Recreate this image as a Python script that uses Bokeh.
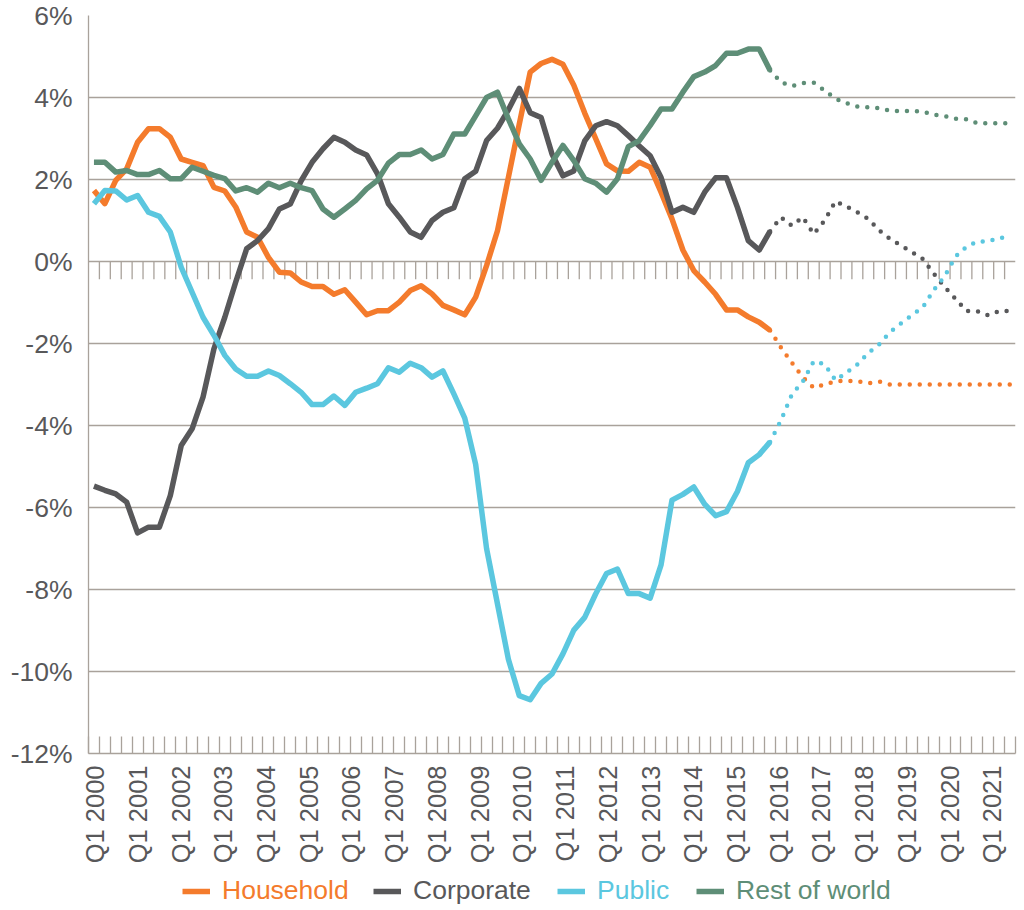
from bokeh.plotting import figure
from bokeh.layouts import column
from bokeh.models import Range1d, FixedTicker, Legend, LegendItem
from bokeh.embed import file_html
from bokeh.resources import INLINE
from math import pi

# quarterly, Q1 2000 .. Q1 2021 (index 0..84); actuals to Q3 2015, forecast after
quarters = list(range(85))
last_actual = 62
year_labels = [f"Q1 {y}" for y in range(2000, 2022)]
y_ticks = list(range(-12, 7, 2))

household = [
    1.73, 1.41, 1.98, 2.26, 2.91, 3.24, 3.24, 3.03, 2.5, 2.42,
    2.34, 1.81, 1.72, 1.33, 0.72, 0.59, 0.1, -0.26, -0.28, -0.5,
    -0.61, -0.61, -0.8, -0.69, -0.99, -1.3, -1.2, -1.2, -0.99, -0.71,
    -0.59, -0.79, -1.07, -1.18, -1.3, -0.87, -0.1, 0.75, 2.05, 3.35,
    4.62, 4.83, 4.93, 4.81, 4.3, 3.62, 3.0, 2.38, 2.21, 2.2,
    2.42, 2.3, 1.69, 1.04, 0.28, -0.22, -0.5, -0.8, -1.18, -1.18,
    -1.35, -1.48, -1.68, -2.1, -2.47, -2.82, -3.08, -3.0, -2.92, -2.91,
    -2.92, -2.97, -2.93, -3.0, -3.0, -3.0, -3.0, -3.0, -3.0, -3.0,
    -3.0, -3.0, -3.0, -3.0, -3.0,
]
corporate = [
    -5.48, -5.58, -5.67, -5.87, -6.62, -6.48, -6.48, -5.71, -4.49, -4.08,
    -3.31, -2.13, -1.36, -0.5, 0.31, 0.51, 0.8, 1.28, 1.4, 1.97,
    2.42, 2.75, 3.03, 2.91, 2.72, 2.6, 2.14, 1.41, 1.08, 0.72,
    0.59, 1.0, 1.2, 1.31, 2.02, 2.2, 2.95, 3.25, 3.7, 4.22,
    3.63, 3.51, 2.62, 2.09, 2.21, 2.94, 3.31, 3.41, 3.31, 3.07,
    2.82, 2.58, 2.05, 1.2, 1.32, 1.2, 1.69, 2.04, 2.04, 1.32,
    0.51, 0.28, 0.74, 1.08, 0.87, 1.08, 0.67, 1.0, 1.47, 1.34,
    1.2, 1.04, 0.76, 0.55, 0.39, 0.23, 0.06, -0.29, -0.62, -0.91,
    -1.21, -1.21, -1.31, -1.21, -1.21,
]
public = [
    1.41, 1.73, 1.72, 1.5, 1.61, 1.2, 1.1, 0.72, -0.14, -0.75,
    -1.36, -1.8, -2.29, -2.62, -2.8, -2.8, -2.67, -2.78, -2.98, -3.19,
    -3.49, -3.49, -3.28, -3.51, -3.19, -3.09, -2.98, -2.59, -2.7, -2.48,
    -2.59, -2.82, -2.67, -3.23, -3.82, -4.95, -7.0, -8.35, -9.7, -10.59,
    -10.69, -10.29, -10.06, -9.57, -8.99, -8.68, -8.11, -7.61, -7.5, -8.1,
    -8.1, -8.21, -7.4, -5.82, -5.68, -5.5, -5.92, -6.2, -6.1, -5.61,
    -4.91, -4.71, -4.4, -3.87, -3.24, -2.93, -2.43, -2.51, -2.9, -2.71,
    -2.51, -2.23, -2.02, -1.72, -1.51, -1.31, -1.12, -0.7, -0.36, 0.12,
    0.36, 0.49, 0.49, 0.58, 0.58,
]
rest_of_world = [
    2.42, 2.42, 2.18, 2.22, 2.12, 2.12, 2.22, 2.02, 2.02, 2.3,
    2.2, 2.1, 2.02, 1.72, 1.8, 1.69, 1.91, 1.8, 1.91, 1.8,
    1.73, 1.28, 1.08, 1.28, 1.49, 1.77, 1.98, 2.4, 2.61, 2.61,
    2.72, 2.5, 2.61, 3.11, 3.11, 3.55, 4.0, 4.13, 3.48, 2.87,
    2.5, 1.98, 2.42, 2.83, 2.46, 2.02, 1.91, 1.69, 2.02, 2.8,
    2.95, 3.32, 3.72, 3.72, 4.13, 4.51, 4.62, 4.78, 5.08, 5.08,
    5.18, 5.18, 4.66, 4.37, 4.28, 4.35, 4.36, 4.17, 3.97, 3.86,
    3.78, 3.76, 3.74, 3.68, 3.67, 3.67, 3.66, 3.58, 3.55, 3.48,
    3.47, 3.37, 3.37, 3.37, 3.37,
]

series = [
    ("Household", household, "#f47b2c", 94),
    ("Corporate", corporate, "#58585a", 285),
    ("Public", public, "#5bc7df", 469),
    ("Rest of world", rest_of_world, "#5e8e77", 608),
]

GRID = "#a9a29b"
TEXT = "#58585a"
FONT = "Liberation Sans"

p = figure(
    width=1018, height=868,
    x_range=Range1d(-0.5, 84.5), y_range=Range1d(-12, 6),
    output_backend="svg", toolbar_location=None,
    min_border_left=88, min_border_right=3, min_border_top=15, min_border_bottom=115,
)
p.outline_line_color = None

# y axis
p.yaxis.ticker = FixedTicker(ticks=y_ticks)
p.yaxis.major_label_overrides = {t: f"{t}%" for t in y_ticks}
p.yaxis.axis_line_color = GRID
p.yaxis.axis_line_width = 1.3
p.yaxis.major_tick_line_color = None
p.yaxis.minor_tick_line_color = None
p.yaxis.major_label_standoff = 10
p.yaxis.major_label_text_font = FONT
p.yaxis.major_label_text_font_size = "26.5px"
p.yaxis.major_label_text_color = TEXT

p.ygrid.ticker = FixedTicker(ticks=y_ticks)
p.ygrid.grid_line_color = GRID
p.ygrid.grid_line_width = 1.3
p.xgrid.visible = False

# x axis: labels every Q1 (spread as in the original layout), ticks on every quarter boundary
label_step = 3.918
label_pos = [round(0.1 + label_step * k, 3) for k in range(len(year_labels))]
bounds = [q - 0.5 for q in quarters] + [84.5]
p.xaxis.ticker = FixedTicker(ticks=label_pos, minor_ticks=bounds)
p.xaxis.major_label_overrides = dict(zip(label_pos, year_labels))
p.xaxis.major_label_orientation = pi / 2
p.xaxis.major_tick_in = 0
p.xaxis.major_tick_out = 0
p.xaxis.minor_tick_in = 17
p.xaxis.minor_tick_out = 0
p.xaxis.minor_tick_line_color = GRID
p.xaxis.minor_tick_line_width = 1.3
p.xaxis.axis_line_color = GRID
p.xaxis.axis_line_width = 1.3
p.xaxis.major_label_standoff = 12
p.xaxis.major_label_text_font = FONT
p.xaxis.major_label_text_font_size = "25.5px"
p.xaxis.major_label_text_color = TEXT

# tick marks hanging from the zero line
p.segment(x0=bounds[1:-1], y0=0, x1=bounds[1:-1], y1=-0.43, line_color=GRID, line_width=1.3)

# legend strip under the chart, one legend per series so each label keeps its colour
key = figure(
    width=1018, height=40, x_axis_type=None, y_axis_type=None,
    x_range=Range1d(0, 1), y_range=Range1d(0, 1),
    output_backend="svg", toolbar_location=None,
    min_border_left=0, min_border_right=0, min_border_top=0, min_border_bottom=0,
)
key.outline_line_color = None
key.grid.visible = False

for name, vals, color, lx in series:
    p.line(quarters[:last_actual + 1], vals[:last_actual + 1],
           line_color=color, line_width=5.5, line_join="round")
    p.line(quarters[last_actual:], vals[last_actual:], line_color=color,
           line_width=4.5, line_dash="0 10", line_cap="round")
    # off-range sample renderer, only used for the legend swatch
    sample = key.line([-5, -4], [-5, -5], line_color=color, line_width=5.5)
    leg = Legend(
        items=[LegendItem(label=name, renderers=[sample])],
        location=(lx, 2), orientation="horizontal",
        label_text_color=color, label_text_font=FONT, label_text_font_size="26.5px",
        glyph_width=28, glyph_height=28, label_height=28, label_standoff=12,
        padding=0, margin=0, spacing=0,
        border_line_alpha=0, background_fill_alpha=0,
    )
    key.add_layout(leg)

layout = column(p, key, spacing=0)
open("out.html", "w").write(file_html(layout, INLINE))
